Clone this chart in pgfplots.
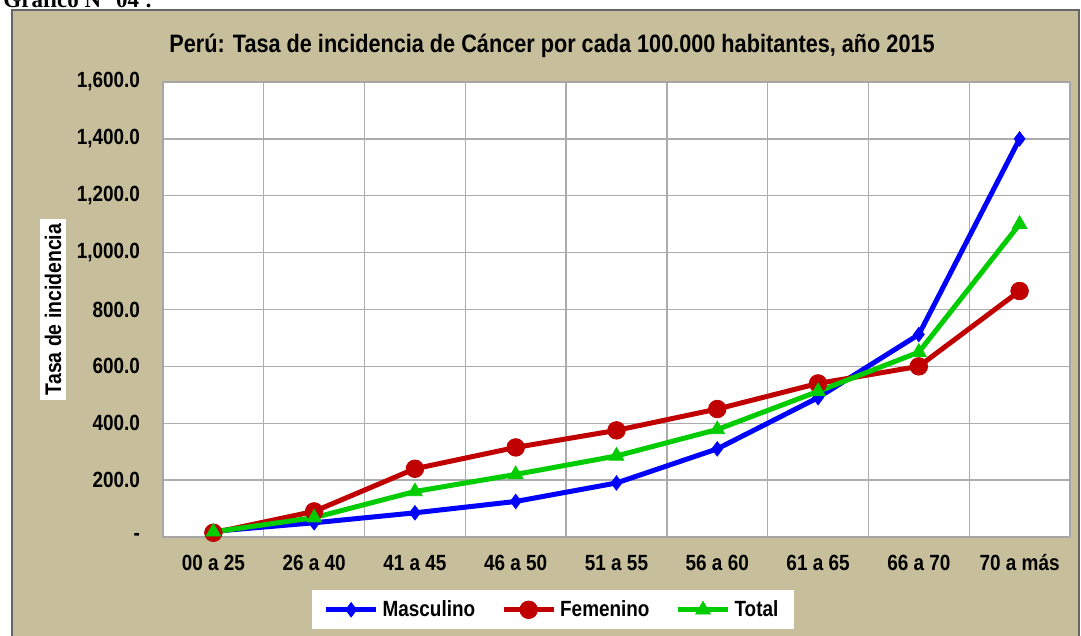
\documentclass[border=0pt]{standalone}
\usepackage{fontspec}
\setmainfont{Liberation Sans}[FakeStretch=0.86]
\newfontfamily\titlefont{Liberation Serif}
\usepackage{pgfplots}
\pgfplotsset{compat=1.18}

\definecolor{bgtan}{RGB}{199,191,155}
\definecolor{masc}{RGB}{0,0,255}
\definecolor{fem}{RGB}{192,0,0}
\definecolor{tot}{RGB}{0,204,0}

\begin{document}
\begin{tikzpicture}
% pixel grid of the reference: 1 px = 0.5pt, y downwards
\begin{scope}[x=0.5pt,y=-0.5pt]
  \useasboundingbox (0,0) rectangle (1081,636);
  \clip (0,0) rectangle (1081,636);
  \fill[white] (0,0) rectangle (1081,636);
  \draw[fill=bgtan, draw=gray!80!black, line width=0.8pt] (12,10) rectangle (1079,650);
  \node[anchor=base west, inner sep=0pt, font=\titlefont\bfseries\fontsize{11.5}{13}\selectfont] at (3,8) {Gráfico N° 04 :};
\end{scope}

\begin{axis}[
  at={(81.5pt,-268.5pt)}, anchor=south west,
  scale only axis, width=453.5pt, height=227.5pt,
  xmin=-0.5, xmax=8.5, ymin=0, ymax=1600,
  axis background/.style={fill=white},
  axis line style={draw=gray!70, line width=0.8pt},
  xtick={0,...,8},
  xticklabels={00 a 25,26 a 40,41 a 45,46 a 50,51 a 55,56 a 60,61 a 65,66 a 70,70 a más},
  minor xtick={0.5,1.5,...,7.5},
  ytick={0,200,...,1600},
  yticklabels={-,200.0,400.0,600.0,800.0,{1,000.0},{1,200.0},{1,400.0},{1,600.0}},
  ymajorgrids, xminorgrids,
  grid style={gray!65, line width=0.7pt},
  major tick length=0pt, minor tick length=0pt,
  tick label style={font=\bfseries\fontsize{11}{13}\selectfont},
  yticklabel style={anchor=east, xshift=-8pt},
  xticklabel style={anchor=base, yshift=-16.5pt},
  ylabel={Tasa de incidencia},
  ylabel style={at={(axis description cs:-0.1213,0.5)}, anchor=center, rotate=0,
    fill=white, inner sep=2.5pt, font=\bfseries\fontsize{11.3}{13}\selectfont},
  title={Perú: Tasa de incidencia de Cáncer por cada 100.000 habitantes, año 2015},
  title style={at={(axis description cs:0.429,1.0)}, anchor=base, yshift=8.5pt,
    font=\bfseries\fontsize{12.6}{14}\selectfont},
  legend columns=3,
  legend style={at={(axis description cs:0.43,-0.160)}, anchor=center,
    fill=white, draw=none, inner xsep=6pt, inner ysep=3pt,
    font=\bfseries\fontsize{11}{13}\selectfont,
    /tikz/every even column/.append style={column sep=11pt},
    /tikz/every odd column/.append style={column sep=0pt}},
  legend image code/.code={%
    \draw[mark repeat=2, mark phase=2, #1] plot coordinates {(0pt,0pt) (12.5pt,0pt) (25pt,0pt)};},
  every axis plot/.append style={line width=2.5pt},
]
\addplot[color=masc, mark=diamond*, mark size=3.6pt, mark options={solid, line width=0.4pt}]
  coordinates {(0,20) (1,50) (2,85) (3,125) (4,190) (5,310) (6,490) (7,712) (8,1400)};
\addlegendentry{Masculino}
\addplot[color=fem, mark=*, mark size=4.4pt, mark options={solid, line width=0.4pt}]
  coordinates {(0,15) (1,90) (2,240) (3,315) (4,375) (5,450) (6,540) (7,600) (8,865)};
\addlegendentry{Femenino}
\addplot[color=tot, mark=triangle*, mark size=4.2pt, mark options={solid, line width=0.4pt}]
  coordinates {(0,18) (1,68) (2,160) (3,220) (4,285) (5,378) (6,512) (7,650) (8,1100)};
\addlegendentry{Total}
\end{axis}
\end{tikzpicture}
\end{document}
